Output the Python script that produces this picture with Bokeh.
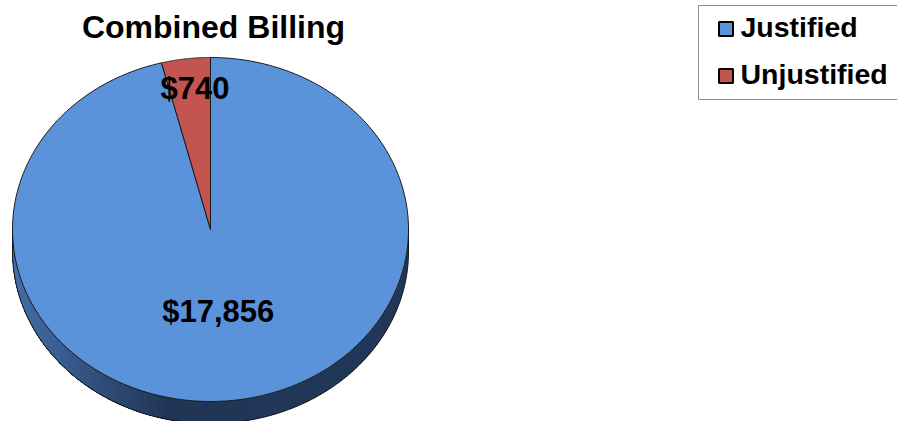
import numpy as np
from bokeh.plotting import figure
from bokeh.models import Range1d
from bokeh.core.properties import value
from bokeh.embed import file_html
from bokeh.resources import INLINE

# ---- data ----
categories = ["Justified", "Unjustified"]
amounts = [17856, 740]
colors = ["#5B93DB", "#C4544F"]
title_text = "Combined Billing"

# ---- layout ----
W, H = 897, 421
FONT = value("Liberation Sans")
cx, cy, rx, ry, depth = 210.0, 229.0, 198.0, 172.0, 22.0
TEXT_DY = -11  # baseline correction

p = figure(width=W, height=H, x_range=Range1d(0, W), y_range=Range1d(H, 0),
           output_backend="svg", toolbar_location=None, min_border=0,
           x_axis_type=None, y_axis_type=None)
p.outline_line_color = None
p.grid.visible = False
p.background_fill_color = "white"
p.border_fill_color = "white"

def pt(t, r=1.0):
    return cx + rx * r * np.cos(t), cy + ry * r * np.sin(t)

# ---- side wall (front half, shaded) ----
light = np.array([68, 112, 170])
dark = np.array([33, 53, 85])
def band(t0, t1, m=120):
    tt = np.linspace(t0, t1, m)
    ax, ay = pt(tt)
    return list(ax) + list(ax[::-1]), list(ay) + list((ay + depth)[::-1])

bxs, bys = band(0, np.pi, 300)
p.patch(bxs, bys, fill_color="#21375a", line_color=None)
n = 60
t_lim = np.arccos(1 - 2 * 0.40)
ts = np.linspace(t_lim, np.pi, n + 1)[:-1]
gx, gy, gc = [], [], []
for t0 in ts:
    x0, _ = pt(t0)
    f = (x0 - (cx - rx)) / (2 * rx)
    k = min(1.0, f / 0.40)
    c = (light * (1 - k) + dark * k).astype(int)
    xs_, ys_ = band(t0, np.pi, 60)
    gx.append(xs_); gy.append(ys_)
    gc.append("#%02x%02x%02x" % tuple(c))
p.patches(gx, gy, fill_color=gc, line_color=None)

th = np.linspace(0, np.pi, 300)
bx, by = pt(th)
p.line(list(bx), list(by + depth), line_color="#111111", line_width=1)
p.line([cx - rx, cx - rx], [cy, cy + depth], line_color="#111111", line_width=1)
p.line([cx + rx, cx + rx], [cy, cy + depth], line_color="#111111", line_width=1)

# ---- top face slices ----
total = float(sum(amounts))
fracs = [a / total for a in amounts]
a_unj = 2 * np.pi * fracs[1]
start = -np.pi / 2
spans = [(start, start + 2 * np.pi - a_unj), (start - a_unj, start)]
px, py = [], []
for (t0, t1) in spans:
    tt = np.linspace(t0, t1, 300)
    ax, ay = pt(tt)
    px.append([cx] + list(ax))
    py.append([cy] + list(ay))
p.patches(px, py, fill_color=colors, line_color="#1a1a1a", line_width=1)

# ---- slice labels ----
label_r = [0.476, 0.829]
label_dx = [-4, 5]
lx, ly, lt = [], [], []
for (t0, t1), r, dx, a in zip(spans, label_r, label_dx, amounts):
    mx, my = pt((t0 + t1) / 2, r)
    lx.append(mx + dx)
    ly.append(my + 11.5 + TEXT_DY)
    lt.append("${:,}".format(a))
p.text(lx, ly, text=lt, text_font=FONT, text_font_style="bold", text_font_size="31px",
       text_align="center", text_baseline="alphabetic", text_color="black")

# ---- title ----
p.text([213], [36 + TEXT_DY + 1], text=[title_text], text_font=FONT, text_font_style="bold",
       text_font_size="32px", text_align="center", text_baseline="alphabetic",
       text_color="black")

# ---- legend ----
p.quad(left=[698], right=[910], top=[5], bottom=[99], fill_color="white",
       line_color="#8c8c8c", line_width=1)
ky = [28.5 + 47 * i for i in range(len(categories))]
p.rect([725.5] * len(categories), ky, width=14, height=14, fill_color=colors,
       line_color="black", line_width=2)
p.text([740] * len(categories), [y + 8.5 + TEXT_DY for y in ky], text=categories, text_font=FONT,
       text_font_style="bold", text_font_size="28.5px", text_align="left",
       text_baseline="alphabetic", text_color="black")

open("out.html", "w").write(file_html(p, INLINE))
